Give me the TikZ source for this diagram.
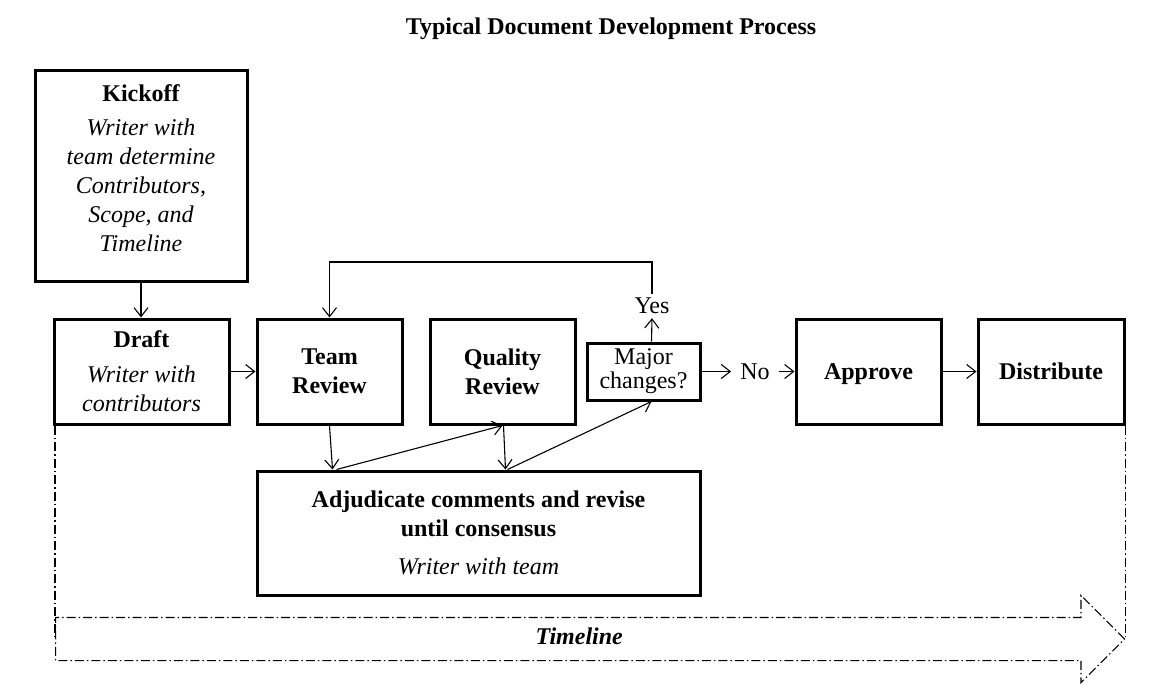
\documentclass[tikz,border=0pt]{standalone}
\usepackage{fontspec}
\setmainfont{Liberation Serif}
\usetikzlibrary{positioning,arrows.meta,calc,shapes.arrows}

\newcommand{\bodyfont}{\fontsize{24}{29}\selectfont}

\begin{document}
\begin{tikzpicture}[
  x=1pt, y=-1pt,
  font=\bodyfont,
  box/.style      = {draw, line width=3pt, rectangle, align=center, inner sep=2pt,
                     minimum width=145pt, minimum height=105pt},
  lbl/.style      = {inner sep=4pt},
  arr/.style      = {-{Straight Barb[length=9pt,width=14pt]}, line width=1.1pt},
  dashdot/.style  = {line width=1.1pt, dash pattern=on 9pt off 3pt on 1.5pt off 3pt},
  timeline/.style = {single arrow, draw, dashdot, single arrow head extend=22pt,
                     single arrow tip angle=90, minimum height=1069pt,
                     minimum width=86pt, inner xsep=0pt, inner ysep=10.5pt,
                     text height=16pt, text depth=5pt,
                     font=\bodyfont\bfseries\itshape}
]
\useasboundingbox (0,0) rectangle (1173,698);

% Title
\node[font=\bodyfont\bfseries] (title) at (611,29) {Typical Document Development Process};

% Process boxes
\node[box, font=\bodyfont\itshape, minimum width=212pt, minimum height=210pt,
      text depth=16pt] (kickoff) at (141,176)
      {{\upshape\bfseries Kickoff}\\[5pt] Writer with\\ team determine\\ Contributors,\\ Scope, and\\ Timeline};
\node[box, font=\bodyfont\itshape, minimum width=175pt] (draft) at (141.5,371.5)
      {{\upshape\bfseries Draft}\\[6pt] Writer with\\ contributors};
\node[box, font=\bodyfont\bfseries] (team)    at (329.5,371.5) {Team\\ Review};
\node[box, font=\bodyfont\bfseries] (quality) at (502.5,371.5) {Quality\\ Review};
\node[box, font=\fontsize{24}{24}\selectfont, minimum width=113pt,
      minimum height=57pt] (major) at (643.5,371.5) {Major\\ changes?};
\node[box, font=\bodyfont\bfseries, text depth=0pt] (approve) at (868.5,371.5) {Approve};
\node[box, font=\bodyfont\bfseries, text depth=0pt, minimum width=146pt] (distribute) at (1051,371.5) {Distribute};
\node[box, font=\bodyfont\bfseries, minimum width=443pt, minimum height=124pt] (adj) at (478.5,533)
      {Adjudicate comments and revise\\ until consensus\\[9pt] {\mdseries\itshape Writer with team}};

% Decision labels
\node[lbl] (yes) at (652,306) {Yes};
\node[lbl, inner xsep=9pt] (no) at (755,371.5) {No};
\coordinate (loop) at (329.5,262);

% Timeline
\node[timeline, anchor=tail] (timeline) at (55,639) {Timeline};
\draw[dashdot] (timeline.tail |- draft.south) -- (timeline.tail);
\draw[dashdot] (timeline.tip |- distribute.south) -- (timeline.tip);

% Arrows
\draw[arr] (kickoff.south) -- (kickoff.south |- draft.north);
\draw[arr] (draft.east) -- (team.west);
\draw[arr] (team.south) -- ($(adj.north west)+(77,0)$);
\draw[arr] ($(adj.north west)+(81,0)$) -- (quality.south);
\draw[arr] ($(quality.south)+(1,0)$) -- ($(adj.north west)+(250,0)$);
\draw[arr] ($(adj.north west)+(252,0)$) -- ($(major.south)+(8,0)$);
\draw[arr] ($(major.north)+(8,0)$) -- (yes.south);
\draw[arr] (yes.north) |- (loop) -- (team.north);
\draw[arr] (major.east) -- (no.west);
\draw[arr] (no.east) -- (approve.west);
\draw[arr] (approve.east) -- (distribute.west);
\end{tikzpicture}
\end{document}
